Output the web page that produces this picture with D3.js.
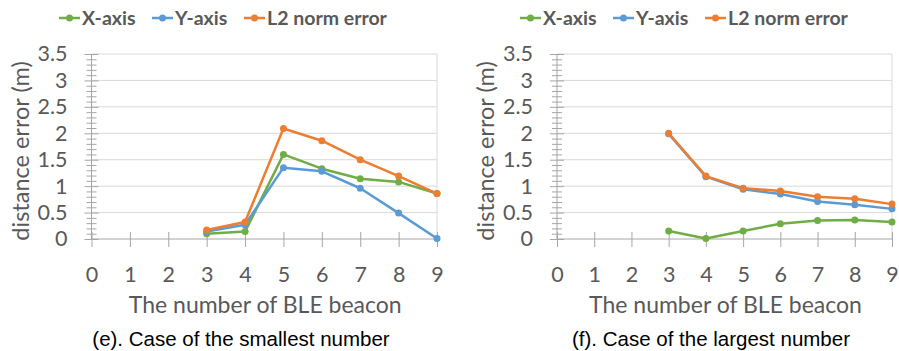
<!DOCTYPE html>
<html lang="en">
<head>
<meta charset="UTF-8">
<title>BLE beacon distance error</title>
<script src="https://d3js.org/d3.v7.min.js"></script>
<style>
  body { margin: 0; background: #fff; }
  svg { display: block; }
  .tick text { font-family: Lato, sans-serif; font-size: 21.5px; fill: #595959; }
  .domain { stroke: #a6a6a6; }
  .tick line { stroke: #a6a6a6; }
</style>
</head>
<body>
<svg id="chart" width="899" height="351"></svg>
<script>
// number of BLE beacons on the x axis
const beacons = [3, 4, 5, 6, 7, 8, 9];
const xTicks = [0, 1, 2, 3, 4, 5, 6, 7, 8, 9];
const yTicks = [0, 0.5, 1, 1.5, 2, 2.5, 3, 3.5];
const seriesNames = ["X-axis", "Y-axis", "L2 norm error"];
const colors = ["#70ad47", "#5b9bd5", "#ed7d31"];

// (e) smallest number
const smallX  = [0.10, 0.14, 1.60, 1.33, 1.14, 1.08, 0.86];
const smallY  = [0.14, 0.27, 1.35, 1.28, 0.96, 0.49, 0.01];
const smallL2 = [0.17, 0.32, 2.09, 1.86, 1.50, 1.19, 0.86];

// (f) largest number
const largeX  = [0.15, 0.01, 0.15, 0.29, 0.35, 0.36, 0.32];
const largeY  = [1.99, 1.18, 0.94, 0.85, 0.71, 0.65, 0.57];
const largeL2 = [2.00, 1.19, 0.96, 0.91, 0.80, 0.76, 0.66];

const svg = d3.select("#chart");

function drawPanel(opt) {
  const g = svg.append("g");
  const x = d3.scaleLinear().domain([0, 9]).range([opt.left, opt.right]);
  const y = d3.scaleLinear().domain([0, 3.5]).range([239, 54]);

  // gridlines
  g.selectAll(".grid")
    .data(yTicks.filter(d => d > 0))
    .enter().append("line")
    .attr("x1", opt.left).attr("x2", opt.right)
    .attr("y1", d => y(d)).attr("y2", d => y(d))
    .attr("stroke", "#d9d9d9").attr("stroke-width", 1);
  g.append("line")
    .attr("x1", opt.right).attr("x2", opt.right)
    .attr("y1", y(3.5)).attr("y2", y(0))
    .attr("stroke", "#d9d9d9");

  // minor ticks on y
  const minor = d3.range(1, 35).map(i => i / 10).filter(v => Math.abs(v * 2 - Math.round(v * 2)) > 1e-6);
  const minorAxis = g.append("g")
    .attr("transform", `translate(${opt.left},0)`)
    .call(d3.axisLeft(y).tickValues(minor).tickSize(5).tickFormat(""));
  minorAxis.select(".domain").remove();
  minorAxis.selectAll(".tick line").attr("x1", 5).attr("stroke", "#bfbfbf");

  // major y axis
  const yAxis = g.append("g")
    .attr("transform", `translate(${opt.left},0)`)
    .call(d3.axisLeft(y).tickValues(yTicks).tickSize(7).tickPadding(17)
      .tickFormat(d => String(d)));
  yAxis.select(".domain").attr("d", `M0,${y(3.5)}V${y(0)}`);
  yAxis.selectAll(".tick line").attr("x1", 7);

  // x axis
  const xAxis = g.append("g")
    .attr("transform", `translate(0,${y(0)})`)
    .call(d3.axisBottom(x).tickValues(xTicks).tickSize(8).tickPadding(20));
  xAxis.select(".domain").attr("d", `M${opt.left},0H${opt.right}`);
  xAxis.selectAll(".tick line").attr("y1", -7);

  // axis titles
  g.append("text")
    .attr("x", (opt.left + opt.right) / 2 + 1)
    .attr("y", 313)
    .attr("text-anchor", "middle")
    .attr("font-family", "Lato, sans-serif")
    .attr("font-size", 23)
    .attr("fill", "#595959")
    .text("The number of BLE beacon");

  g.append("text")
    .attr("transform", `translate(${opt.titleX},151) rotate(-90)`)
    .attr("text-anchor", "middle")
    .attr("font-family", "Lato, sans-serif")
    .attr("font-size", 23.5)
    .attr("fill", "#595959")
    .text("distance error (m)");

  // caption
  g.append("text")
    .attr("x", opt.captionX)
    .attr("y", 346)
    .attr("text-anchor", "middle")
    .attr("font-family", "'Liberation Sans', Arial, sans-serif")
    .attr("font-size", 20.5)
    .attr("fill", "#000")
    .text(opt.caption);

  // lines
  const line = d3.line().x((d, i) => x(beacons[i])).y(d => y(d));
  opt.series.forEach((vals, k) => {
    g.append("path")
      .datum(vals)
      .attr("d", line)
      .attr("fill", "none")
      .attr("stroke", colors[k])
      .attr("stroke-width", 2.5)
      .attr("stroke-linejoin", "round");
    g.selectAll(".pt" + k)
      .data(vals)
      .enter().append("circle")
      .attr("cx", (d, i) => x(beacons[i]))
      .attr("cy", d => y(d))
      .attr("r", 3.5)
      .attr("fill", colors[k]);
  });

  // legend
  const offsets = [0, 93, 185];
  const leg = g.selectAll(".legend")
    .data(seriesNames)
    .enter().append("g")
    .attr("transform", (d, i) => `translate(${opt.legendX + offsets[i]},18)`);
  leg.append("line")
    .attr("x1", 0).attr("x2", 21)
    .attr("stroke", (d, i) => colors[i]).attr("stroke-width", 2.5);
  leg.append("circle")
    .attr("cx", 10.5).attr("r", 3.5)
    .attr("fill", (d, i) => colors[i]);
  leg.append("text")
    .attr("x", 23)
    .attr("y", 7)
    .attr("font-family", "Lato, sans-serif")
    .attr("font-weight", "bold")
    .attr("font-size", 19.5)
    .attr("fill", "#595959")
    .text(d => d);
}

drawPanel({
  left: 91.5, right: 437, titleX: 29, legendX: 59, captionX: 241,
  caption: "(e). Case of the smallest number",
  series: [smallX, smallY, smallL2]
});

drawPanel({
  left: 557, right: 892, titleX: 494, legendX: 520, captionX: 711,
  caption: "(f). Case of the largest number",
  series: [largeX, largeY, largeL2]
});
</script>
</body>
</html>
